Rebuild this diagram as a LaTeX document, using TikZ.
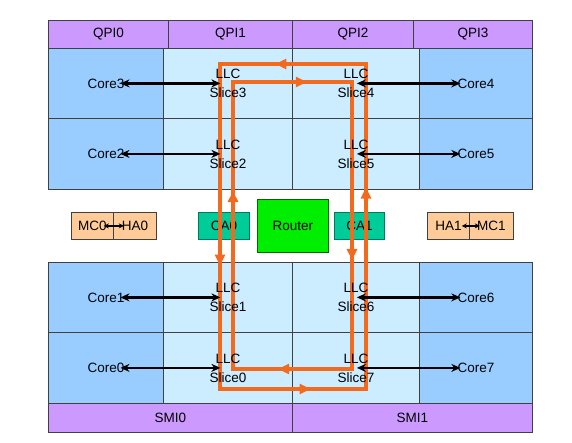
\documentclass[tikz,border=0pt]{standalone}
\usepackage{fontspec}
\setmainfont{Liberation Sans}
\usetikzlibrary{arrows.meta,decorations.markings}
\definecolor{corec}{HTML}{99CCFF}
\definecolor{llcc}{HTML}{CCECFF}
\definecolor{qpic}{HTML}{CC99FF}
\definecolor{hac}{HTML}{FFCC99}
\definecolor{cac}{HTML}{00CC99}
\definecolor{routc}{HTML}{00EE00}
\definecolor{ringc}{HTML}{F26A1E}
\definecolor{edgec}{HTML}{404040}
\begin{document}
\begin{tikzpicture}[x=1pt,y=-1pt,
  font=\fontsize{13.5}{15}\selectfont,
  box/.style={draw=edgec, line width=0.8pt, inner sep=0pt, anchor=north west},
  qpibox/.style={box, fill=qpic},
  corebox/.style={box, fill=corec},
  llcbox/.style={box, fill=llcc},
  habox/.style={box, fill=hac},
  cabox/.style={box, fill=cac, draw=cac!60!black},
  routbox/.style={box, fill=routc, draw=green!40!black},
  lbl/.style={inner sep=0pt},
  llclbl/.style={inner sep=0pt, align=center, font=\fontsize{13.5}{19}\selectfont},
  link/.style={line width=2.6pt, {Stealth[length=9pt,width=8pt]}-{Stealth[length=9pt,width=8pt]}},
  smalllink/.style={line width=1.2pt, {Stealth[length=5pt,width=5pt]}-{Stealth[length=5pt,width=5pt]}},
  ring/.style={draw=ringc, line width=3.4pt, line cap=rect,
    decoration={markings, mark=at position 0.62 with {\arrow[ringc]{Triangle[length=11pt,width=10pt]}}},
    postaction={decorate}}
]
\path[fill=white] (0,0) rectangle (572,442);
\useasboundingbox (0,0) rectangle (572,442);

% QPI row
\node[qpibox, minimum width=120, minimum height=28] (qpi0) at (48,20) {QPI0};
\node[qpibox, minimum width=124, minimum height=28] (qpi1) at (168,20) {QPI1};
\node[qpibox, minimum width=121, minimum height=28] (qpi2) at (292,20) {QPI2};
\node[qpibox, minimum width=119, minimum height=28] (qpi3) at (413,20) {QPI3};

% upper cells
\node[corebox, minimum width=115, minimum height=70] (c3) at (48,48) {};
\node[llcbox, minimum width=129, minimum height=70] (l3) at (163,48) {};
\node[llcbox, minimum width=127, minimum height=70] (l4) at (292,48) {};
\node[corebox, minimum width=113, minimum height=70] (c4) at (419,48) {};
\node[corebox, minimum width=115, minimum height=71] (c2) at (48,118) {};
\node[llcbox, minimum width=129, minimum height=71] (l2) at (163,118) {};
\node[llcbox, minimum width=127, minimum height=71] (l5) at (292,118) {};
\node[corebox, minimum width=113, minimum height=71] (c5) at (419,118) {};

% lower cells
\node[corebox, minimum width=115, minimum height=70] (c1) at (48,262) {};
\node[llcbox, minimum width=129, minimum height=70] (l1) at (163,262) {};
\node[llcbox, minimum width=127, minimum height=70] (l6) at (292,262) {};
\node[corebox, minimum width=113, minimum height=70] (c6) at (419,262) {};
\node[corebox, minimum width=115, minimum height=71] (c0) at (48,332) {};
\node[llcbox, minimum width=129, minimum height=71] (l0) at (163,332) {};
\node[llcbox, minimum width=127, minimum height=71] (l7) at (292,332) {};
\node[corebox, minimum width=113, minimum height=71] (c7) at (419,332) {};

% SMI row
\node[qpibox, minimum width=244, minimum height=29] (smi0) at (48,403) {SMI0};
\node[qpibox, minimum width=240, minimum height=29] (smi1) at (292,403) {SMI1};

% middle row
\node[habox, minimum width=42, minimum height=27] (mc0) at (71,212) {MC0};
\node[habox, minimum width=43, minimum height=27] (ha0) at (113,212) {HA0};
\node[cabox, minimum width=51, minimum height=27] (ca0) at (198,212) {CA0};
\node[routbox, minimum width=71, minimum height=53] (router) at (257,199) {Router};
\node[cabox, minimum width=50, minimum height=27] (ca1) at (334,212) {CA1};
\node[habox, minimum width=42, minimum height=27] (ha1) at (427,212) {HA1};
\node[habox, minimum width=44, minimum height=27] (mc1) at (469,212) {MC1};
\draw[smalllink] ([xshift=-10pt]mc0.east) -- ([xshift=10pt]mc0.east);
\draw[smalllink] ([xshift=-8pt]ha1.east) -- ([xshift=10pt]ha1.east);

% ring coordinates
\coordinate (otl) at (220,64);
\coordinate (otr) at (366,64);
\coordinate (obr) at (366,389);
\coordinate (obl) at (220,389);
\coordinate (itl) at (233,82);
\coordinate (itr) at (352,82);
\coordinate (ibr) at (352,369);
\coordinate (ibl) at (233,369);

% outer ring (counter-clockwise)
\draw[ring] (otr) -- (otl);
\draw[ring] (otl) -- (obl);
\draw[ring] (obl) -- (obr);
\draw[ring] (obr) -- (otr);
% inner ring (clockwise)
\draw[ring] (itl) -- (itr);
\draw[ring] (itr) -- (ibr);
\draw[ring] (ibr) -- (ibl);
\draw[ring] (ibl) -- (itl);

% labels
\foreach \n in {0,1,2,3,4,5,6,7} {
  \node[lbl] (tc\n) at (c\n.center) {Core\n};
  \node[llclbl] (tl\n) at (l\n.center) {LLC\\Slice\n};
}

% core-LLC links, left side
\foreach \n in {0,1,2,3} {
  \draw[link] ([xshift=-4pt]tc\n.east) -- ([xshift=-7.5pt]l\n.center);
}
% right side
\foreach \n in {4,5,6,7} {
  \draw[link] ([xshift=1pt]l\n.center) -- ([xshift=3pt]tc\n.west);
}
\end{tikzpicture}
\end{document}
